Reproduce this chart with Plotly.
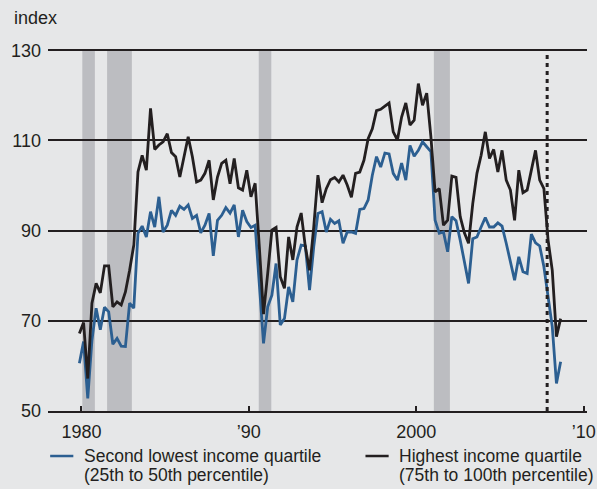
import plotly.graph_objects as go

# quarterly index values, 1980Q1 - 2008Q4
second_lowest = [
    60.6, 65.4, 52.8, 65.7, 72.8, 68.0, 73.0, 72.0, 64.8, 66.1, 64.4, 64.3, 73.9, 72.8, 89.4, 91.0, 88.6, 94.2, 90.8, 97.5,
    89.7, 91.2, 94.5, 93.4, 95.4, 94.7, 95.7, 92.7, 93.4, 89.5, 91.2, 93.8, 84.4, 92.3, 93.4, 95.1, 93.9, 95.7, 88.6,
    94.5, 92.0, 90.7, 91.2, 79.0, 65.0, 73.1, 75.7, 82.7, 69.1, 70.5, 77.5, 74.2, 83.5, 86.8, 86.6, 76.8, 86.4, 93.8,
    94.2, 89.7, 92.5, 91.6, 92.2, 87.2, 89.7, 89.7, 89.4, 94.7, 94.9, 96.8, 102.3, 106.4, 104.1, 107.2, 107.0, 102.7, 101.2,
    105.0, 101.2, 108.9, 106.5, 107.8, 109.7, 108.6, 107.5, 92.3, 89.4, 89.7, 85.3, 93.1, 92.2, 87.9, 83.1, 78.3, 88.2, 88.6, 90.8,
    92.9, 90.8, 90.8, 91.7, 91.0, 87.2, 82.7, 79.0, 84.2, 80.9, 80.5, 89.2, 87.3, 86.6, 82.0, 75.3, 68.7, 56.1, 60.9,
]
highest = [
    67.2, 69.6, 57.2, 73.9, 78.3, 76.2, 82.2, 82.2, 73.1, 74.2, 73.5, 76.4, 81.2, 86.8, 103.0, 106.7, 103.4, 117.1, 108.0, 109.0,
    109.7, 111.5, 107.3, 106.4, 101.9, 106.4, 110.8, 106.4, 100.8, 101.2, 102.7, 105.6, 96.8, 101.9, 104.9, 105.6, 100.4, 106.0, 99.5,
    99.0, 103.4, 97.5, 100.5, 86.4, 71.5, 80.5, 90.1, 90.7, 79.8, 77.2, 88.6, 83.5, 90.8, 93.9, 86.4, 81.2, 90.8, 102.3,
    96.2, 99.3, 101.3, 101.8, 100.8, 102.3, 100.1, 97.4, 102.7, 103.0, 105.6, 110.4, 112.6, 116.6, 116.9, 117.6, 118.3, 111.9, 110.1,
    115.2, 118.3, 113.4, 114.5, 122.6, 117.8, 120.5, 110.8, 98.6, 99.3, 91.2, 92.3, 102.1, 101.8, 93.1, 89.5, 87.2, 96.0, 102.7, 106.7,
    111.9, 106.0, 108.0, 103.0, 107.8, 101.2, 99.0, 92.3, 103.4, 98.4, 99.0, 103.4, 107.8, 101.2, 99.3, 87.9, 81.2, 66.5, 70.5,
]
quarters = [1980 + q / 4 for q in range(len(highest))]
x_pos = [q - 0.125 for q in quarters]

recessions = [(1980.05, 1980.80), (1981.53, 1983.01), (1990.59, 1991.34), (2001.05, 2002.01)]
marker_year = 2007.82

tick_years = [1980, 1990, 2000, 2010]
tick_text = ["1980", "\u201990", "2000", "\u201910"]
y_ticks = [50, 70, 90, 110, 130]

series_names = ["Second lowest income quartile", "Highest income quartile"]
series_notes = ["(25th to 50th percentile)", "(75th to 100th percentile)"]
series_colors = ["#2c5f91", "#231f20"]

INK = "#231f20"
BG = "#e6e7e8"

fig = go.Figure()

for start, end in recessions:
    fig.add_shape(type="rect", xref="x", yref="y", x0=start, x1=end, y0=50, y1=130,
                  fillcolor="#bcbdc1", line_width=0, layer="below")

fig.add_shape(type="line", xref="x", yref="y", x0=marker_year, x1=marker_year, y0=50, y1=130,
              line=dict(color=INK, width=3, dash="4px,4px"))

for vals, name, color in zip([second_lowest, highest], series_names, series_colors):
    fig.add_trace(go.Scatter(x=x_pos, y=vals, mode="lines", name=name,
                             line=dict(color=color, width=2.8), showlegend=False))

# legend drawn below the plot: short line + two text rows per series
legend_x = [0.004, 0.589]
for lx, name, note, color in zip(legend_x, series_names, series_notes, series_colors):
    fig.add_shape(type="line", xref="paper", yref="paper", x0=lx, x1=lx + 0.043,
                  y0=-0.124, y1=-0.124, line=dict(color=color, width=2.5))
    fig.add_annotation(text=name, xref="paper", yref="paper", x=lx + 0.059, y=-0.124,
                       xanchor="left", yanchor="middle", showarrow=False,
                       font=dict(size=17.5, color=INK))
    fig.add_annotation(text=note, xref="paper", yref="paper", x=lx + 0.059, y=-0.176,
                       xanchor="left", yanchor="middle", showarrow=False,
                       font=dict(size=17.5, color=INK))

fig.add_annotation(text="index", xref="paper", yref="paper", x=-0.067, y=1.083,
                   xanchor="left", yanchor="middle", showarrow=False,
                   font=dict(size=18, color=INK))

fig.update_layout(
    width=597, height=489,
    margin=dict(l=48, r=10, t=48, b=78),
    paper_bgcolor=BG, plot_bgcolor=BG,
    font=dict(family="Liberation Sans, Arial, sans-serif", size=18, color=INK),
    showlegend=False,
    xaxis=dict(range=[1978, 2010.2], tickvals=tick_years, ticktext=tick_text, automargin=False,
               showgrid=False, zeroline=False, showline=True, linecolor=INK, linewidth=1.5,
               ticks="inside", ticklen=5, tickwidth=1.5, tickcolor=INK, ticklabelstandoff=4),
    yaxis=dict(range=[50, 130.5], tickvals=y_ticks, showgrid=True, gridcolor=INK, gridwidth=1.5,
               automargin=False, zeroline=False, showline=False, ticks="", ticklabelstandoff=6),
)

fig.write_html("out.html", config={"displayModeBar": False},
               post_script="document.body.style.margin='0';")
